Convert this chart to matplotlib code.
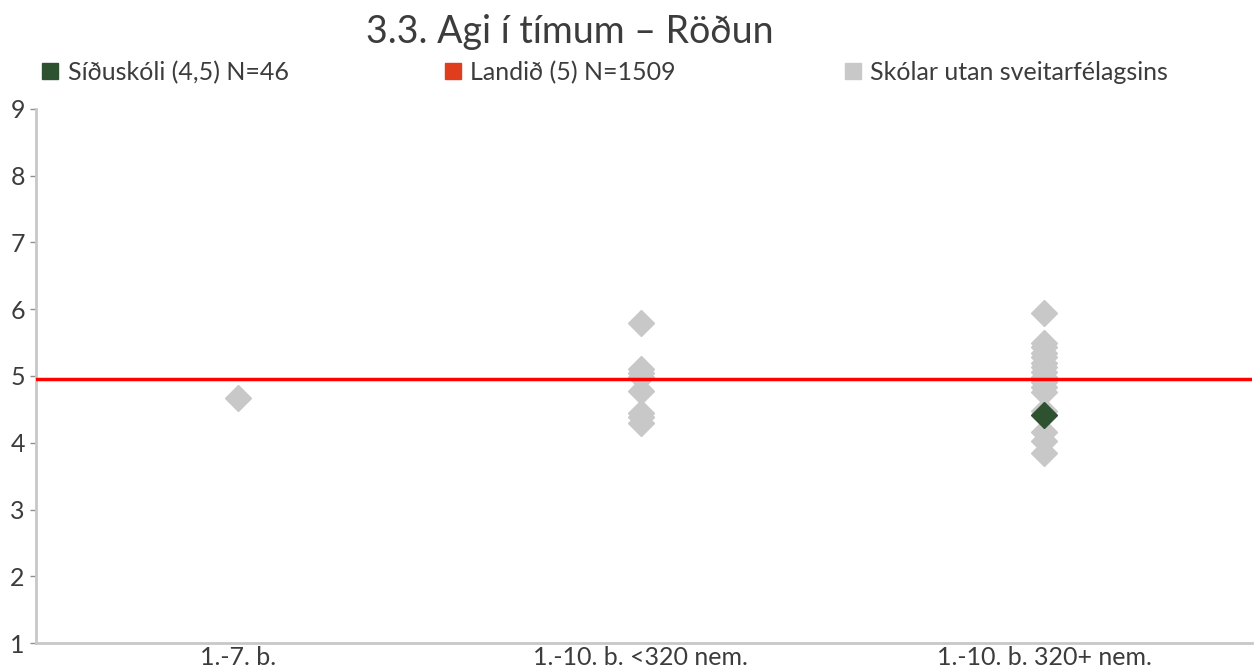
import matplotlib.pyplot as plt
from matplotlib.lines import Line2D

plt.rcParams["font.family"] = ["Lato", "DejaVu Sans"]

# Flokkar og gildi
flokkar = ["1.-7. b.", "1.-10. b. <320 nem.", "1.-10. b. 320+ nem."]
skolar_utan = [
  [4.67],
  [5.8, 5.1, 5.05, 4.98, 4.78, 4.45, 4.38, 4.3],
  [5.95, 5.5, 5.43, 5.35, 5.28, 5.2, 5.13, 5.06, 4.98, 4.91, 4.83, 4.76,
   4.48, 4.16, 4.03, 3.84],
]
siduskoli_flokkur = 2
siduskoli_gildi = 4.41
landid = 4.96

graen = "#2e5230"
raudur = "#ff0000"
rautt_takn = "#e03c1e"
grar = "#c8c8c8"
texti = "#3c3c3c"

fig = plt.figure(figsize=(12.58, 6.71), dpi=100)
ax = fig.add_axes([0.0286, 0.0417, 0.9665, 0.7959])

for i, gildi in enumerate(skolar_utan):
  ax.plot([i] * len(gildi), gildi, linestyle="none", marker="D",
          markersize=13, color=grar, zorder=2)

ax.axhline(landid, color=raudur, linewidth=2.5, zorder=3)
ax.plot([siduskoli_flokkur], [siduskoli_gildi], linestyle="none", marker="D",
        markersize=13, color=graen, zorder=4)

ax.set_xlim(-0.5, 2.515)
ax.set_ylim(1, 9)
ax.set_xticks(range(len(flokkar)))
ax.set_xticklabels(flokkar)
ax.set_yticks(range(1, 10))
ax.tick_params(axis="x", length=0, labelsize=18, colors=texti, pad=2)
ax.tick_params(axis="y", length=4, width=1, labelsize=18, colors=texti, pad=4)
ax.tick_params(axis="y", color="#909090")
for s in ["top", "right"]:
  ax.spines[s].set_visible(False)
for s in ["left", "bottom"]:
  ax.spines[s].set_color(grar)
  ax.spines[s].set_linewidth(2)

fig.text(0.453, 0.953, "3.3. Agi í tímum – Röðun", ha="center", va="center",
         fontsize=27, color=texti)

handles = [
  Line2D([], [], linestyle="none", marker="s", markersize=11, color=graen),
  Line2D([], [], linestyle="none", marker="s", markersize=11, color=rautt_takn),
  Line2D([], [], linestyle="none", marker="s", markersize=11, color=grar),
]
labels = ["Síðuskóli (4,5) N=46", "Landið (5) N=1509", "Skólar utan sveitarfélagsins"]
xs = [0.032, 0.352, 0.670]
for h, lab, x in zip(handles, labels, xs):
  fig.legend([h], [lab], loc="center left", bbox_to_anchor=(x, 0.892),
             frameon=False, fontsize=18, handletextpad=0.3, handlelength=0.8,
             borderaxespad=0, borderpad=0, labelcolor=texti)

fig.savefig("out.png", dpi=100)
